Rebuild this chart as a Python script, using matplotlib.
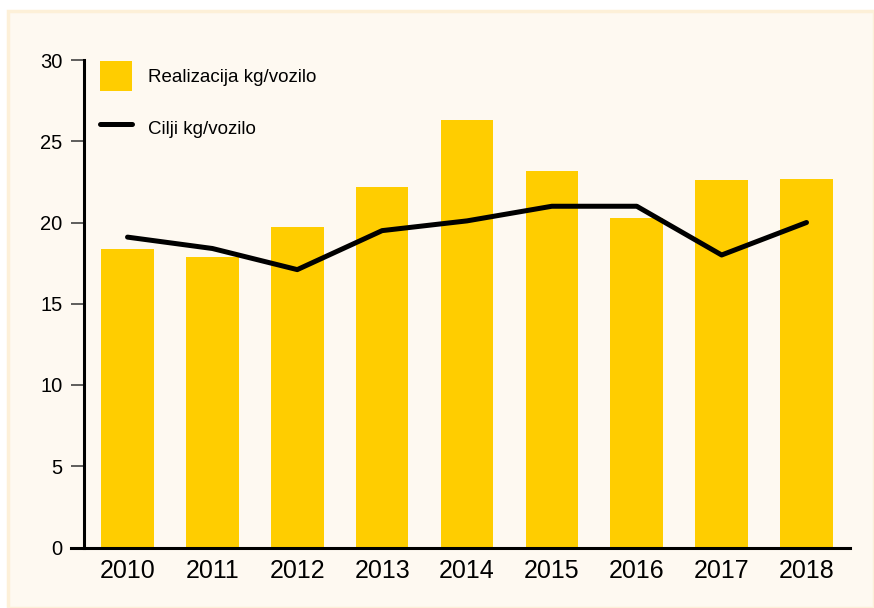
import matplotlib
matplotlib.use("Agg")
import matplotlib.pyplot as plt
from matplotlib.patches import Rectangle
import numpy as np

# data
years = ["2010", "2011", "2012", "2013", "2014", "2015", "2016", "2017", "2018"]
realizacija = [18.4, 17.9, 19.7, 22.2, 26.3, 23.2, 20.3, 22.6, 22.7]
cilji = [19.1, 18.4, 17.1, 19.5, 20.1, 21.0, 21.0, 18.0, 20.0]
y_ticks = [0, 5, 10, 15, 20, 25, 30]

plt.rcParams['font.family'] = ['Liberation Sans', 'DejaVu Sans']

W, H = 874, 608
fig = plt.figure(figsize=(W / 100, H / 100), dpi=100)
fig.patch.set_facecolor('white')

# cream panel behind the chart
fig.patches.append(Rectangle((8 / W, 0), 1 - 8 / W, 1 - 11 / H,
                             transform=fig.transFigure, facecolor='#FEF9F1',
                             edgecolor='#FDF0D8', linewidth=2.5, zorder=-5))

ax = fig.add_axes([71 / W, 1 - 547.5 / H, (850 - 71) / W, (547.5 - 60) / H])
ax.set_zorder(2)
ax.set_facecolor('none')

# spines first, set_position resets the ticks
ax.spines['top'].set_visible(False)
ax.spines['right'].set_visible(False)
ax.spines['left'].set_position(('data', -0.5125))
ax.spines['left'].set_linewidth(2.2)
ax.spines['bottom'].set_linewidth(2.2)

x = np.arange(len(years))
bars = ax.bar(x, realizacija, width=0.62, color='#FFCD00',
              label='Realizacija kg/vozilo', zorder=2)
line, = ax.plot(x, cilji, color='black', linewidth=3.6, label='Cilji kg/vozilo',
                zorder=3, solid_capstyle='round', solid_joinstyle='round')

ax.set_xlim(-0.666, 8.5125)
ax.set_ylim(0, 30)
ax.set_xticks(x)
ax.set_xticklabels(years, fontsize=18)
ax.set_yticks(y_ticks)
ax.set_yticklabels([str(v) for v in y_ticks], fontsize=14.5)
ax.tick_params(axis='x', length=0, pad=8)
ax.tick_params(axis='y', length=9.5, width=1.1, pad=6, color='#333333')

ax.legend([bars, line], ['Realizacija kg/vozilo', 'Cilji kg/vozilo'],
          loc='upper left', bbox_to_anchor=(100 / W, 1 - 61 / H),
          bbox_transform=fig.transFigure, frameon=False,
          fontsize=13.5, handlelength=1.7, handleheight=2.05, labelspacing=1.22,
          handletextpad=0.85, borderaxespad=0, borderpad=0)

fig.savefig('out.png', dpi=100, facecolor=fig.get_facecolor())
